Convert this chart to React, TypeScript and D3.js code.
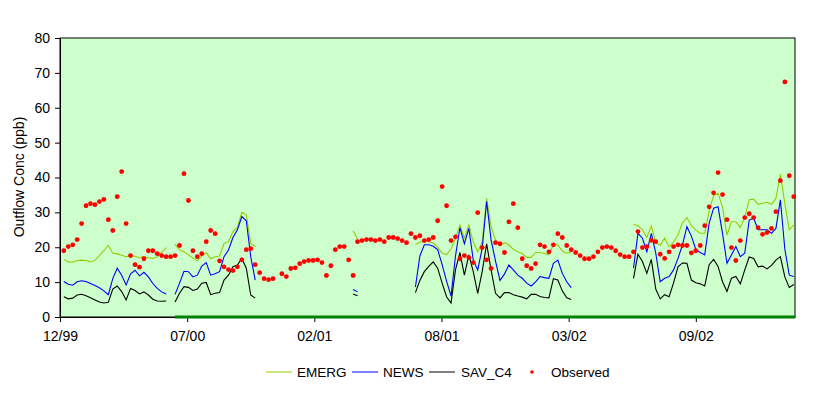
import * as d3 from 'd3';
import React, { useEffect, useRef } from 'react';

// weekly samples, first one on 5 Jan 2000
const firstWeek = new Date(Date.UTC(2000, 0, 5));
const axisStart = new Date(Date.UTC(1999, 11, 30));
const axisEnd = new Date(Date.UTC(2003, 1, 28));
const tickStepDays = 200;
const tickLabels = ['12/99', '07/00', '02/01', '08/01', '03/02', '09/02'];

const _ = null;

const emerg = [
  16.6, 15.8, 15.7, 16.2, 16.3, 16.2, 15.8, 16.3, 17.6, 19.0, 20.5, 18.3, 18.1, 17.7, 17.3, 17.5, 17.4, 17.0, 17.3, 17.0, 16.8, 17.3, 18.6, 19.9,
  _,
  20.9, 19.2, 18.7, 17.8, 16.9, 16.1, 17.5, 18.4, 16.7, 17.3, 17.5, 21.1, 21.6, 24.5, 25.7, 30.0, 29.3, 21.1, 20.2,
  _, _, _, _, _, _, _, _, _, _, _, _, _, _, _, _, _, _, _, _, _,
  24.7, 22.3,
  _, _, _, _, _, _, _, _, _, _, _, _,
  20.7, 21.5, 21.7, 21.6, 21.2, 20.0, 18.3, 17.9, 19.5, 22.5, 26.4, 22.6, 26.4, 21.5, 18.7, 21.5, 34.0, 26.0, 22.0, 20.5,
  21.3, 20.7, 19.4, 18.7, 18.2, 17.1, 17.1, 18.5, 18.5, 18.2, 17.9, 20.7, 20.7, 18.9, 18.3, 18.6,
  _, _, _, _, _, _, _, _, _, _, _, _, _,
  26.6, 26.2, 25.0, 22.8, 26.1, 21.3, 20.6, 22.6, 20.1, 21.5, 23.5, 27.0, 28.5, 26.2, 24.9, 24.0, 24.0, 30.5, 34.8, 35.5,
  31.5, 23.5, 27.3, 27.3, 25.7, 28.5, 33.6, 33.8, 32.3, 32.6, 32.9, 32.3, 34.0, 41.0, 32.5, 25.0, 26.4,
];

const news = [
  10.2, 9.4, 9.1, 10.1, 10.4, 10.2, 9.6, 9.0, 8.4, 7.5, 6.4, 11.0, 14.0, 12.0, 9.2, 12.4, 13.4, 11.8, 12.8, 11.5, 9.6, 8.2, 7.2, 6.6,
  _,
  6.5, 9.7, 13.1, 13.0, 11.5, 12.0, 14.6, 15.6, 12.0, 12.4, 13.0, 17.3, 19.2, 22.8, 25.0, 28.8, 27.6, 17.3, 10.6,
  _, _, _, _, _, _, _, _, _, _, _, _, _, _, _, _, _, _, _, _, _,
  7.9, 7.2,
  _, _, _, _, _, _, _, _, _, _, _, _,
  8.6, 17.5, 20.7, 20.7, 20.3, 19.3, 15.0, 10.3, 6.0, 17.5, 25.6, 21.0, 25.4, 16.3, 13.5, 19.7, 33.1, 22.1, 16.0, 10.5,
  12.3, 14.9, 13.5, 12.0, 11.1, 9.7, 8.9, 10.1, 11.6, 11.3, 11.1, 15.4, 16.3, 12.5, 10.1, 8.4,
  _, _, _, _, _, _, _, _, _, _, _, _, _,
  14.0, 24.0, 22.6, 18.7, 24.0, 18.3, 10.1, 11.1, 11.6, 13.5, 16.8, 20.7, 25.9, 23.2, 19.4, 18.5, 17.8, 26.9, 31.2, 31.6,
  24.0, 15.4, 17.8, 20.2, 17.3, 18.3, 27.8, 28.3, 25.0, 25.0, 25.0, 24.0, 25.4, 33.6, 19.5, 12.0, 11.6,
];

const savC4 = [
  5.8, 5.2, 5.4, 6.3, 6.5, 6.1, 5.5, 4.9, 4.3, 4.0, 4.2, 8.0, 8.9, 7.3, 4.9, 8.2, 7.6, 6.6, 7.2, 6.3, 5.1, 4.6, 4.5, 4.6,
  _,
  4.3, 6.8, 8.7, 8.5, 7.6, 8.0, 9.7, 9.9, 6.4, 6.8, 7.0, 10.6, 12.0, 14.4, 14.9, 16.8, 14.0, 6.3, 5.4,
  _, _, _, _, _, _, _, _, _, _, _, _, _, _, _, _, _, _, _, _, _,
  6.6, 6.1,
  _, _, _, _, _, _, _, _, _, _, _, _,
  7.0, 10.5, 13.0, 14.5, 15.8, 14.0, 9.7, 5.8, 4.0, 13.5, 18.5, 12.0, 17.8, 13.0, 6.8, 13.0, 21.0, 13.5, 6.8, 5.5,
  7.0, 7.0, 6.4, 6.0, 5.7, 5.2, 6.5, 6.5, 5.9, 5.6, 5.5, 11.0, 10.6, 7.5, 5.5, 5.0,
  _, _, _, _, _, _, _, _, _, _, _, _, _,
  11.1, 18.0, 15.9, 12.5, 16.5, 8.0, 5.2, 6.4, 5.8, 9.8, 14.4, 15.5, 15.4, 10.6, 9.8, 9.5, 8.9, 15.0, 16.5, 14.5,
  10.1, 7.3, 11.1, 11.6, 9.5, 13.5, 17.2, 16.8, 14.4, 14.6, 13.8, 14.8, 16.3, 17.3, 11.5, 8.5, 9.3,
];

const observed = [
  19.0, 20.2, 20.7, 22.2, 26.8, 31.9, 32.5, 32.2, 33.1, 33.7, 27.9, 24.8, 34.5, 41.7, 26.8, 17.6, 15.0, 14.3, 16.7, 19.0,
  19.0, 18.2, 17.6, 17.3, 17.3, 17.6, 20.5, 41.1, 33.4, 19.0, 17.3, 18.2, 21.6, 24.8, 23.9, 16.1, 14.4, 13.6, 13.3, 14.4,
  16.4, 19.3, 19.6, 15.0, 12.7, 11.0, 10.7, 11.0, _, 12.4, 11.6, 13.9, 14.1, 15.3, 15.9, 16.2, 16.2, 16.4, 15.6, 11.9,
  14.7, 19.3, 20.2, 20.2, 16.4, 11.9, 21.6, 21.9, 22.2, 22.2, 21.9, 22.2, 21.6, 22.8, 22.8, 22.5, 21.9, 21.3, 23.9, 22.8,
  23.3, 21.9, 22.2, 22.8, 27.6, 37.4, 31.9, 21.9, 23.0, 16.7, 17.6, 17.0, 15.6, 29.9, 19.9, 16.4, 13.9, 21.3, 21.0, 18.5,
  27.3, 32.5, 25.6, 16.7, 14.7, 13.9, 15.3, 20.7, 20.2, 18.7, 20.7, 23.9, 22.8, 20.5, 19.3, 18.5, 17.6, 16.7, 16.7, 17.3,
  18.7, 19.9, 20.2, 19.9, 19.0, 17.9, 17.3, 17.3, 18.7, 24.5, 19.9, 20.2, 22.0, 21.6, 18.0, 16.8, 18.7, 20.2, 20.7, 20.5,
  20.5, 18.4, 19.0, 20.5, 26.2, 31.6, 35.6, 41.4, 35.1, 27.9, 19.9, 16.2, 21.9, 28.5, 29.6, 28.5, 25.6, 23.7, 24.2, 25.4,
  30.2, 39.1, 67.4, 40.5, 34.5,
];

// the unnamed flat series sitting on the x axis starts at this week
const zeroSeriesFrom = 25;

const seriesList = [
  { name: 'EMERG', values: emerg, color: '#99cc00' },
  { name: 'NEWS', values: news, color: '#0000ff' },
  { name: 'SAV_C4', values: savC4, color: '#000000' },
];

const font = '"Liberation Sans", Arial, sans-serif';

const App: React.FC = () => {
  const ref = useRef<SVGSVGElement>(null);

  useEffect(() => {
    if (!ref.current) return;
    const svg = d3.select(ref.current);
    svg.selectAll('*').remove();

    const left = 60, right = 795, top = 38, bottom = 317;
    const weeks = observed.map((_v, i) => d3.utcDay.offset(firstWeek, 7 * i));

    const x = d3.scaleUtc().domain([axisStart, axisEnd]).range([left, right]);
    const y = d3.scaleLinear().domain([0, 80]).range([bottom, top]);

    svg.append('rect')
      .attr('x', left).attr('y', top)
      .attr('width', right - left).attr('height', bottom - top)
      .attr('fill', '#ccffcc').attr('stroke', '#000').attr('stroke-width', 1);

    const yAxis = svg.append('g')
      .attr('transform', `translate(${left},0)`)
      .call(d3.axisLeft(y).tickValues(d3.range(0, 81, 10)).tickSize(5).tickSizeOuter(0).tickPadding(5));
    const tickDates = tickLabels.map((_l, k) => d3.utcDay.offset(axisStart, tickStepDays * k));
    const xAxis = svg.append('g')
      .attr('transform', `translate(0,${bottom})`)
      .call(d3.axisBottom(x).tickValues(tickDates).tickSize(5).tickSizeOuter(0).tickPadding(9)
        .tickFormat((_d, i) => tickLabels[i]));
    [yAxis, xAxis].forEach(g => {
      g.selectAll('text').style('font', `14px ${font}`).attr('fill', '#000');
      g.select('.domain').attr('stroke', '#000');
    });

    svg.append('text')
      .attr('transform', `translate(24,177) rotate(-90)`)
      .attr('text-anchor', 'middle')
      .style('font', `14px ${font}`)
      .text('Outflow Conc (ppb)');

    const line = d3.line<number | null>()
      .defined(d => d != null)
      .x((_d, i) => x(weeks[i]))
      .y(d => y(d as number));

    seriesList.forEach(s => {
      svg.append('path')
        .datum(s.values)
        .attr('fill', 'none')
        .attr('stroke', s.color)
        .attr('stroke-width', 1.1)
        .attr('d', line);
    });

    svg.selectAll('.obs')
      .data(observed.map((v, i) => ({ v, d: weeks[i] })).filter(p => p.v != null))
      .enter().append('circle')
      .attr('class', 'obs')
      .attr('cx', p => x(p.d))
      .attr('cy', p => y(p.v as number))
      .attr('r', 2.4)
      .attr('fill', '#ff0000');

    svg.append('line')
      .attr('x1', x(weeks[zeroSeriesFrom]))
      .attr('x2', right)
      .attr('y1', y(0)).attr('y2', y(0))
      .attr('stroke', '#008000').attr('stroke-width', 3);

    // legend
    const ly = 372;
    const legend = [
      { name: 'EMERG', color: '#99cc00', x0: 266, tx: 297 },
      { name: 'NEWS', color: '#0000ff', x0: 352, tx: 383 },
      { name: 'SAV_C4', color: '#000000', x0: 429, tx: 461 },
    ];
    legend.forEach(l => {
      svg.append('line').attr('x1', l.x0).attr('x2', l.x0 + 26)
        .attr('y1', ly).attr('y2', ly).attr('stroke', l.color).attr('stroke-width', 1);
      svg.append('text').attr('x', l.tx).attr('y', ly).attr('dy', '0.35em')
        .style('font', `13.5px ${font}`).text(l.name);
    });
    svg.append('circle').attr('cx', 532).attr('cy', ly).attr('r', 1.8).attr('fill', '#ff0000');
    svg.append('text').attr('x', 551).attr('y', ly).attr('dy', '0.35em')
      .style('font', `13.5px ${font}`).text('Observed');
  }, []);

  return <svg ref={ref} width={828} height={395} style={{ position: 'absolute', left: 0, top: 0, background: '#fff' }} />;
};

export default App;
